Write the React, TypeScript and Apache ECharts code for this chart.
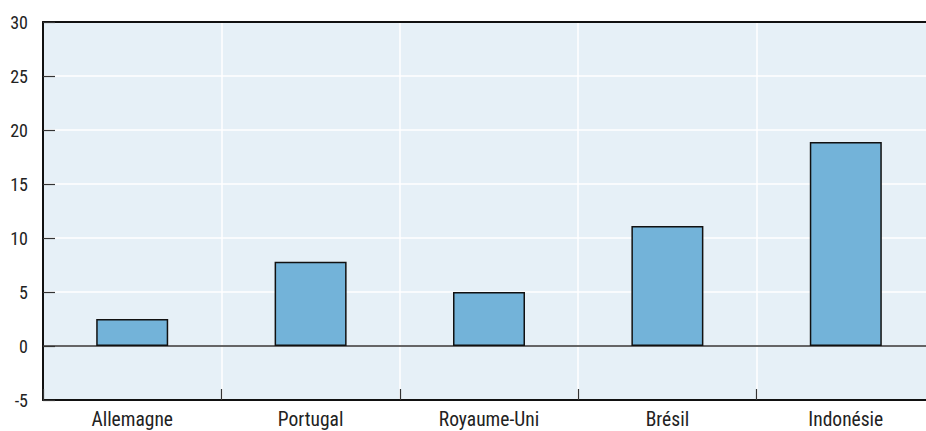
import React, { useEffect, useRef } from "react";
import * as echarts from "echarts";

const categories = ["Allemagne", "Portugal", "Royaume-Uni", "Brésil", "Indonésie"];
const values = [2.5, 7.8, 5.0, 11.1, 18.9];
const yMin = -5;
const yMax = 30;
const yStep = 5;

const FONT = "'Liberation Sans Narrow', 'Roboto Condensed', Roboto, sans-serif";

export default function App() {
  const ref = useRef<HTMLDivElement>(null);
  useEffect(() => {
    if (!ref.current) return;
    const chart = echarts.init(ref.current, undefined, { renderer: "svg" });
    chart.setOption({
      animation: false,
      backgroundColor: "#ffffff",
      grid: {
        left: 43,
        top: 22,
        bottom: 31,
        width: 892,
        outerBoundsMode: "none",
        containLabel: false,
        show: true,
        backgroundColor: "#e6f0f7",
        borderWidth: 0,
      },
      xAxis: [
        {
          type: "category",
          data: categories,
          position: "bottom",
          boundaryGap: true,
          axisLine: { show: true, onZero: false, lineStyle: { color: "#111", width: 2 } },
          axisTick: { show: true, inside: true, length: 11, lineStyle: { color: "#333", width: 1.2 } },
          axisLabel: { color: "#222", fontSize: 19.5, fontFamily: FONT, margin: 9 },
          splitLine: { show: true, lineStyle: { color: "#ffffff", width: 1.5 } },
        },
        {
          type: "category",
          data: categories,
          position: "top",
          axisLine: { show: true, onZero: false, lineStyle: { color: "#111", width: 2 } },
          axisTick: { show: false },
          axisLabel: { show: false },
          splitLine: { show: false },
        },
      ],
      yAxis: {
        type: "value",
        min: yMin,
        max: yMax,
        interval: yStep,
        axisLine: { show: true, lineStyle: { color: "#111", width: 2 } },
        axisTick: { show: true, inside: true, length: 12, lineStyle: { color: "#333", width: 1.2 } },
        axisLabel: { color: "#222", fontSize: 18, fontFamily: FONT, margin: 15 },
        splitLine: { show: true, lineStyle: { color: "#ffffff", width: 1.5 } },
      },
      series: [
        {
          type: "bar",
          data: values,
          barWidth: 72,
          itemStyle: { color: "#73b3d9", borderColor: "#111", borderWidth: 1.5 },
          markLine: {
            silent: true,
            symbol: "none",
            label: { show: false },
            lineStyle: { color: "#333", width: 1.5, type: "solid" },
            data: [{ yAxis: 0 }],
            z: 1,
          },
          z: 3,
        },
      ],
    });
    return () => chart.dispose();
  }, []);
  return (
    <div
      ref={ref}
      style={{ position: "fixed", left: 0, top: 0, width: 926, height: 431 }}
    />
  );
}
